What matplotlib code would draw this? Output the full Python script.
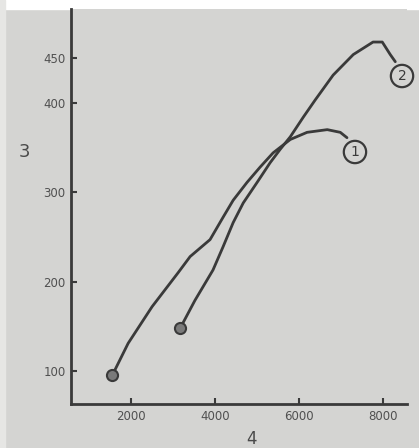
import matplotlib
matplotlib.use("Agg")
import matplotlib.pyplot as plt
from matplotlib.patches import Rectangle

# curve 1
x1 = [1550, 1930, 2500, 3120, 3405, 3880, 4190, 4430, 4760, 5070, 5380, 5790, 6190, 6670, 6980, 7140]
y1 = [95, 131, 172, 210, 228, 247, 272, 291, 311, 328, 344, 359, 367, 370, 367, 361]

# curve 2
x2 = [3170, 3520, 3950, 4190, 4430, 4670, 5000, 5310, 5550, 5790, 6100, 6380, 6810, 7290, 7760, 7980, 8170, 8290]
y2 = [148, 179, 213, 239, 266, 288, 311, 333, 348, 362, 384, 403, 431, 454, 468, 468, 454, 446]

xticks = [2000, 4000, 6000, 8000]
yticks = [100, 200, 300, 400, 450]

bg = '#d4d4d2'
ink = '#3a3a3a'

fig = plt.figure(figsize=(4.19, 4.48), dpi=100, facecolor=bg)
# white scan margins
fig.add_artist(Rectangle((0, 1 - 9/448), 1, 9/448, transform=fig.transFigure, color='white', zorder=0))
fig.add_artist(Rectangle((0, 0), 5/419, 1, transform=fig.transFigure, color='#e6e6e4', zorder=0))

ax = fig.add_axes([0.1695, 0.098, 0.802, 0.882], facecolor=bg)

ax.plot(x1, y1, color=ink, lw=2, solid_capstyle='round', solid_joinstyle='round')
ax.plot(x2, y2, color=ink, lw=2, solid_capstyle='round', solid_joinstyle='round')

# start markers
ax.plot(x1[0], y1[0], 'o', ms=8, mfc='#7a7a7a', mec=ink, mew=1.5)
ax.plot(x2[0], y2[0], 'o', ms=8, mfc='#7a7a7a', mec=ink, mew=1.5)

# circled curve numbers
ax.text(7330, 345, '1', ha='center', va='center', fontsize=10, color=ink,
        bbox=dict(boxstyle='circle,pad=0.3', fc=bg, ec=ink, lw=1.6))
ax.text(8450, 430, '2', ha='center', va='center', fontsize=10, color=ink,
        bbox=dict(boxstyle='circle,pad=0.3', fc=bg, ec=ink, lw=1.6))

ax.set_xlim(570, 8570)
ax.set_ylim(63, 505)
ax.set_xticks(xticks)
ax.set_yticks(yticks)
ax.tick_params(direction='in', length=4, width=1.5, color=ink, labelsize=8.5,
               labelcolor='#505050', pad=4)

for s in ['top', 'right']:
    ax.spines[s].set_visible(False)
for s in ['left', 'bottom']:
    ax.spines[s].set_color(ink)
    ax.spines[s].set_linewidth(2)

ax.set_ylabel('3', rotation=0, fontsize=13, color='#4a4a4a', ha='center', va='center')
ax.yaxis.set_label_coords(-0.140, 0.638)
ax.set_xlabel('4', fontsize=12, color='#4a4a4a', va='center')
ax.xaxis.set_label_coords(0.536, -0.089)

fig.savefig('out.png', dpi=100, facecolor=bg)
